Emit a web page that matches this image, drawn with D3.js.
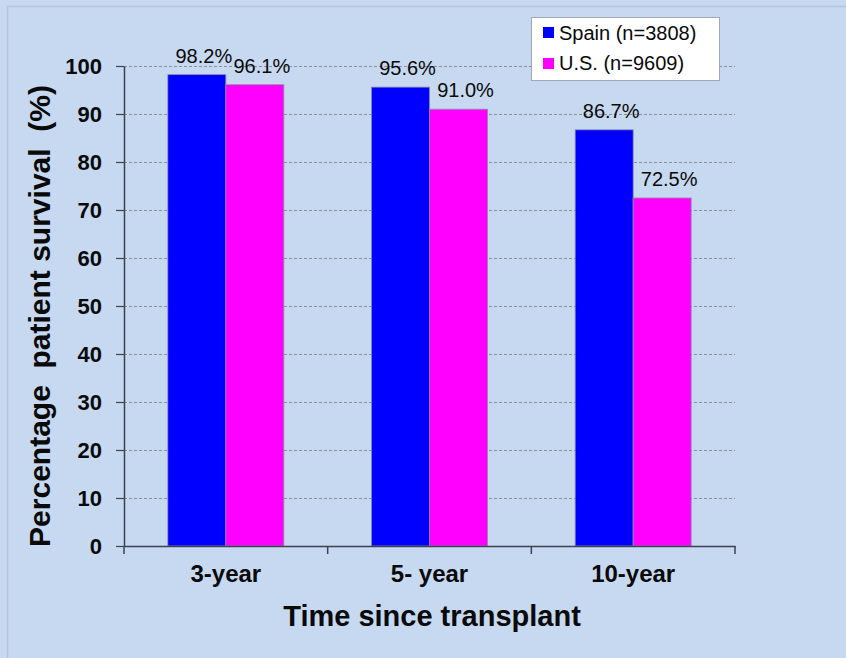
<!DOCTYPE html>
<html>
<head>
<meta charset="utf-8">
<script src="https://cdn.jsdelivr.net/npm/d3@7"></script>
<style>
  html, body { margin: 0; padding: 0; background: #c6d9f0; }
  svg { display: block; }
</style>
</head>
<body>
<div id="chart"></div>
<script>
// data
const categories = ['3-year', '5- year', '10-year']
const seriesNames = ['Spain (n=3808)', 'U.S. (n=9609)']
const spainValues = [98.2, 95.6, 86.7]
const usValues = [96.1, 91.0, 72.5]
const yTicks = [0, 10, 20, 30, 40, 50, 60, 70, 80, 90, 100]

const COLORS = ['#0000ff', '#ff00ff']
const FONT = '"Liberation Sans", Arial, sans-serif'

const W = 846, H = 658
const margin = { top: 66, right: 111, bottom: 112, left: 124 }

const svg = d3.select('#chart').append('svg')
  .attr('width', W).attr('height', H)

// background + frame
svg.append('rect').attr('width', W).attr('height', H).attr('fill', '#c6d9f0')
svg.append('path')
  .attr('d', `M7.5,${H}V6.5H${W}`)
  .attr('fill', 'none').attr('stroke', '#b8c5d6').attr('stroke-width', 1.5)

const x = d3.scaleBand()
  .domain(categories)
  .range([margin.left, W - margin.right])
  .padding(0)

const xSub = d3.scaleBand()
  .domain(seriesNames)
  .range([0, x.bandwidth()])
  .paddingInner(0)
  .paddingOuter(0.756)

const y = d3.scaleLinear()
  .domain([0, 100])
  .range([H - margin.bottom, margin.top])

const rows = categories.map((c, i) => ({
  cat: c,
  vals: [
    { s: seriesNames[0], v: spainValues[i], c: COLORS[0] },
    { s: seriesNames[1], v: usValues[i], c: COLORS[1] },
  ]
}))

// Gridlines
svg.append('g').attr('class', 'grid-y')
  .selectAll('line')
  .data(yTicks.filter(d => d > 0))
  .join('line')
  .attr('x1', margin.left).attr('x2', W - margin.right)
  .attr('y1', d => y(d) + 0.5).attr('y2', d => y(d) + 0.5)
  .attr('stroke', '#8a8f98').attr('stroke-width', 1)
  .attr('stroke-dasharray', '3,2')

// Bars
const groups = svg.append('g').attr('class', 'bars')
  .selectAll('g')
  .data(rows)
  .join('g')
  .attr('transform', d => `translate(${x(d.cat)},0)`)

groups.selectAll('rect')
  .data(d => d.vals)
  .join('rect')
  .attr('x', d => xSub(d.s))
  .attr('width', xSub.bandwidth())
  .attr('y', d => y(d.v))
  .attr('height', d => y(0) - y(d.v))
  .attr('fill', d => d.c)
  .attr('stroke', '#8c8ca8').attr('stroke-width', 0.8)

// value labels
groups.selectAll('text')
  .data(d => d.vals)
  .join('text')
  .attr('x', d => xSub(d.s) + xSub.bandwidth() / 2 + 7)
  .attr('y', d => y(d.v) - 12)
  .attr('text-anchor', 'middle')
  .attr('font-family', FONT).attr('font-size', '20px')
  .attr('fill', '#0a0a0a')
  .text(d => d.v.toFixed(1) + '%')

// Y axis
svg.append('g')
  .attr('class', 'y-axis')
  .attr('transform', `translate(${margin.left},0)`)
  .call(d3.axisLeft(y).tickValues(yTicks).tickSize(8).tickSizeOuter(0).tickPadding(14))
  .call(g => {
    g.select('.domain').attr('stroke', '#3c4050').attr('stroke-width', 1.5)
    g.selectAll('.tick line').attr('stroke', '#3c4050').attr('stroke-width', 1.2)
    g.selectAll('.tick text')
      .attr('fill', '#0a0a0a').attr('font-size', '22px').attr('font-weight', 'bold')
      .attr('font-family', FONT)
  })

// X axis: labels centred on categories, ticks on boundaries
svg.append('g')
  .attr('class', 'x-axis')
  .attr('transform', `translate(0,${y(0)})`)
  .call(d3.axisBottom(x).tickSize(0).tickSizeOuter(0).tickPadding(19))
  .call(g => {
    g.select('.domain').attr('stroke', '#3c4050').attr('stroke-width', 1.5)
    g.selectAll('.tick text')
      .attr('fill', '#0a0a0a').attr('font-size', '24px').attr('font-weight', 'bold')
      .attr('font-family', FONT)
  })

const bounds = categories.map(c => x(c)).concat([x.range()[1]])
svg.append('g').attr('class', 'x-ticks')
  .selectAll('line')
  .data(bounds)
  .join('line')
  .attr('x1', d => d).attr('x2', d => d)
  .attr('y1', y(0)).attr('y2', y(0) + 8)
  .attr('stroke', '#3c4050').attr('stroke-width', 1.5)

// axis titles
svg.append('text')
  .attr('transform', `translate(50,${(y(0) + y(100)) / 2 + 10}) rotate(-90)`)
  .attr('text-anchor', 'middle')
  .attr('font-family', FONT).attr('font-size', '30px').attr('font-weight', 'bold')
  .attr('fill', '#0a0a0a')
  .attr('xml:space', 'preserve')
  .style('white-space', 'pre')
  .text('Percentage  patient survival  (%)')

svg.append('text')
  .attr('x', 432).attr('y', 626)
  .attr('text-anchor', 'middle')
  .attr('font-family', FONT).attr('font-size', '29px').attr('font-weight', 'bold')
  .attr('fill', '#0a0a0a')
  .text('Time since transplant')

// Legend
const legendG = svg.append('g').attr('transform', 'translate(531,17)')
legendG.append('rect')
  .attr('x', 0.5).attr('y', 0.5).attr('width', 188).attr('height', 63)
  .attr('fill', '#fff').attr('stroke', '#a0a8b4')

seriesNames.forEach((name, i) => {
  legendG.append('rect')
    .attr('x', 12).attr('y', 10 + i * 31)
    .attr('width', 11).attr('height', 11)
    .attr('fill', COLORS[i])
  legendG.append('text')
    .attr('x', 28).attr('y', 23 + i * 30)
    .attr('font-family', FONT).attr('font-size', '20px')
    .attr('fill', '#0a0a0a')
    .text(name)
})
</script>
</body>
</html>
